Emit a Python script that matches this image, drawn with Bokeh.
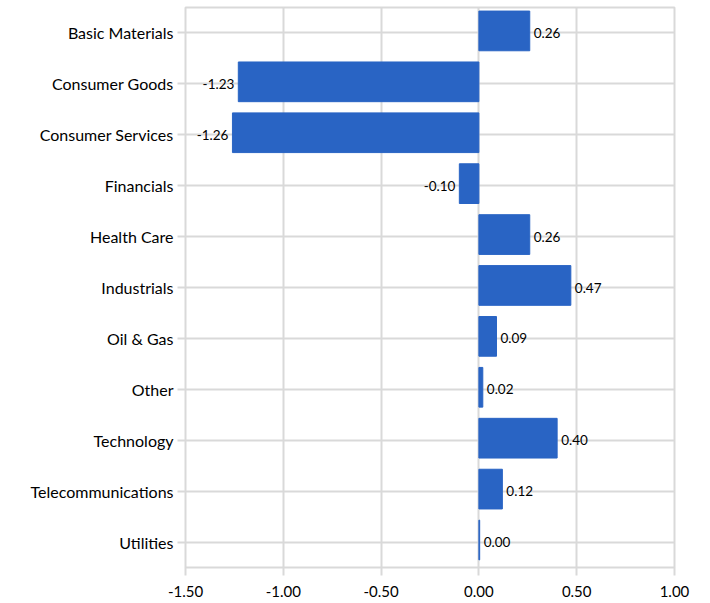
from bokeh.plotting import figure
from bokeh.models import ColumnDataSource, Range1d, FactorRange, NumeralTickFormatter, FixedTicker
from bokeh.transform import dodge
from bokeh.core.properties import value
from bokeh.embed import file_html
from bokeh.resources import INLINE

sectors = ["Basic Materials", "Consumer Goods", "Consumer Services", "Financials",
           "Health Care", "Industrials", "Oil & Gas", "Other", "Technology",
           "Telecommunications", "Utilities"]
values = [0.26, -1.23, -1.26, -0.10, 0.26, 0.47, 0.09, 0.02, 0.40, 0.12, 0.004]
x_ticks = [-1.5, -1.0, -0.5, 0.0, 0.5, 1.0]

FONT = "Lato"
BAR = "#2964c4"
GRID = "#d9d9d9"

src = ColumnDataSource(dict(
    sector=sectors,
    val=values,
    label=[f"{v:.2f}" for v in values],
    align=["left" if v >= 0 else "right" for v in values],
    xoff=[4 if v >= 0 else -4 for v in values],
))

p = figure(
    y_range=FactorRange(*reversed(sectors)),
    x_range=Range1d(-1.5, 1.0),
    frame_width=489, frame_height=560,
    min_border_left=185, min_border_top=7, min_border_right=20, min_border_bottom=0,
    output_backend="svg", toolbar_location=None,
)

p.hbar(y=dodge("sector", 0.04, range=p.y_range), right="val", left=0, height=0.78,
       source=src, fill_color=BAR, line_color=BAR, line_width=1)

p.text(x="val", y="sector", text="label", source=src, text_align="align",
       x_offset="xoff", text_baseline="middle", text_font=value(FONT),
       text_font_size="13.5px", text_color="#000000")

p.outline_line_color = GRID
p.outline_line_width = 2
p.background_fill_color = "white"
p.border_fill_color = "white"

p.xgrid.grid_line_color = GRID
p.xgrid.grid_line_width = 2
p.ygrid.grid_line_color = GRID
p.ygrid.grid_line_width = 2

p.xaxis.ticker = FixedTicker(ticks=x_ticks)
p.xaxis.formatter = NumeralTickFormatter(format="0.00")
for ax in (p.xaxis[0], p.yaxis[0]):
    ax.axis_line_color = None
    ax.major_tick_line_color = GRID
    ax.major_tick_line_width = 2
    ax.major_tick_in = 0
    ax.minor_tick_line_color = None
    ax.major_label_text_font = FONT
    ax.major_label_text_color = "#000000"
p.xaxis.major_label_text_font_size = "15px"
p.yaxis.major_label_text_font_size = "16px"
p.xaxis.major_tick_out = 8
p.yaxis.major_tick_out = 8
p.xaxis.major_label_standoff = 10
p.yaxis.major_label_standoff = 4

open("out.html", "w").write(file_html(p, INLINE))
